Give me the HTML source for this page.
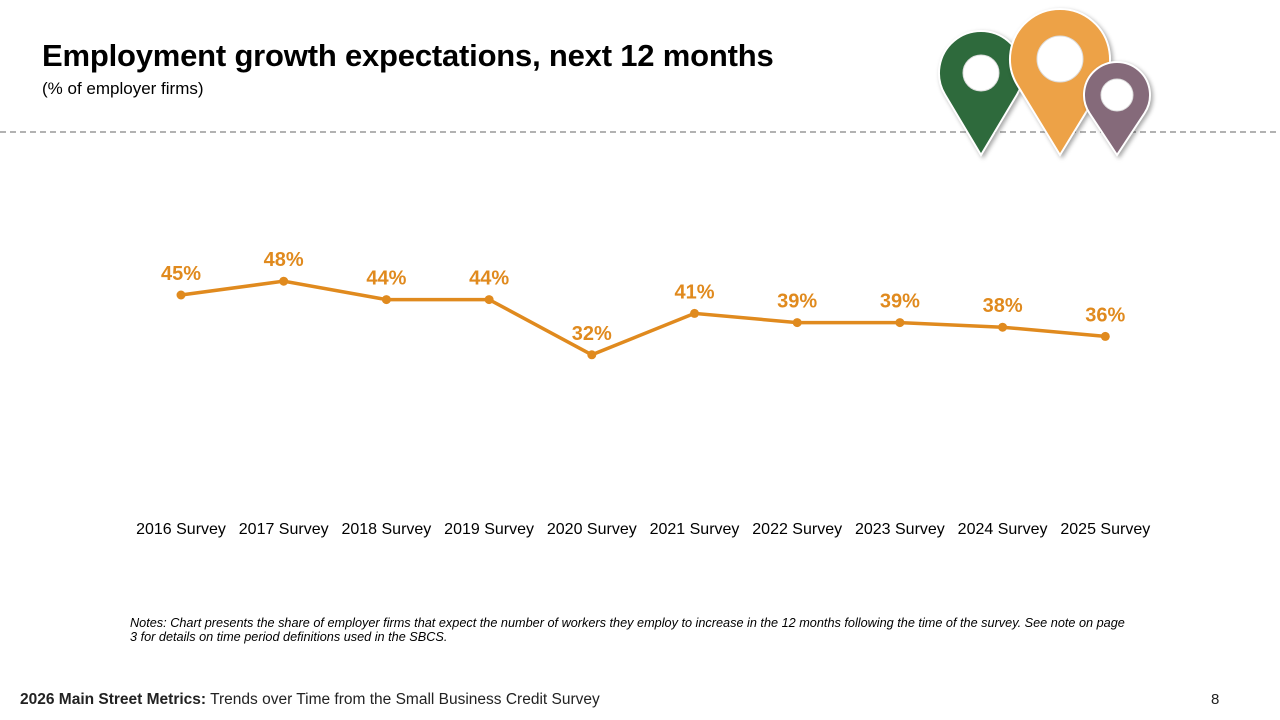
<!DOCTYPE html>
<html><head><meta charset="utf-8"><style>
body{margin:0;width:1280px;height:720px;background:#fff;font-family:"Liberation Sans",sans-serif;position:relative;overflow:hidden}
.t{position:absolute;left:42px;top:38px;font-size:31px;font-weight:bold;color:#000;letter-spacing:-0.2px}
.s{position:absolute;left:42px;top:79px;font-size:17px;color:#000}
.n{position:absolute;left:130px;top:616px;width:1000px;font-size:12.7px;font-style:italic;line-height:14px;color:#000}
.f{position:absolute;left:20px;top:691px;font-size:15.5px;color:#222}
.p{position:absolute;left:1211px;top:691px;font-size:15px;color:#222}
</style></head><body>
<div class="t">Employment growth expectations, next 12 months</div>
<div class="s">(% of employer firms)</div>
<svg id="c" width="1280" height="720" style="position:absolute;left:0;top:0">
<line x1="0" y1="132" x2="1280" y2="132" stroke="#999" stroke-dasharray="6,4" stroke-width="1.5"/>
<g id="pins"></g>
<g id="plot"></g>
</svg>
<div class="n">Notes: Chart presents the share of employer firms that expect the number of workers they employ to increase in the 12 months following the time of the survey. See note on page 3 for details on time period definitions used in the SBCS.</div>
<div class="f"><b>2026 Main Street Metrics:</b> Trends over Time from the Small Business Credit Survey</div>
<div class="p">8</div>
<script>
const categories=["2016 Survey","2017 Survey","2018 Survey","2019 Survey","2020 Survey","2021 Survey","2022 Survey","2023 Survey","2024 Survey","2025 Survey"];
const values=[45,48,44,44,32,41,39,39,38,36];
const NS="http://www.w3.org/2000/svg";
const x=i=>181+i*102.7;
const y=v=>502-v*4.6;
const plot=document.getElementById('plot');
function mk(t,a,p){const e=document.createElementNS(NS,t);for(const k in a)e.setAttribute(k,a[k]);p.appendChild(e);return e;}
const line=mk('polyline',{points:values.map((v,i)=>x(i)+','+y(v)).join(' '),fill:'none',stroke:'#E08A1E','stroke-width':3.5},plot);


values.forEach((v,i)=>{
 const c=mk('circle',{cx:x(i),cy:y(v),r:4.5,fill:'#E08A1E'},plot);
 
 
 const t=mk('text',{x:x(i),y:y(v)-15,'text-anchor':'middle','font-size':20,'font-weight':'bold',fill:'#E08A1E','font-family':'Liberation Sans, sans-serif'},plot);
 t.textContent=v+'%';
 
 
 const l=mk('text',{x:x(i),y:534,'text-anchor':'middle','font-size':16,fill:'#000','font-family':'Liberation Sans, sans-serif'},plot);
 l.textContent=categories[i];
 
 
});
const pins=document.getElementById('pins');
function pin(cx,cy,r,ty,hr,col){
 const d=ty-cy,s=Math.sqrt(1-(r/d)**2),px=r*s,py=r*r/d;
 mk('path',{d:`M${cx},${ty} L${cx-px},${cy+py} A${r},${r} 0 1 1 ${cx+px},${cy+py} Z`,fill:col,stroke:'#fff','stroke-width':2,style:'filter:drop-shadow(2px 2px 2px rgba(0,0,0,0.35))'},pins);
 mk('circle',{cx:cx,cy:cy,r:hr,fill:'#fff',stroke:'#ddd','stroke-width':1},pins);
}
pin(981,73,42,155,18,'#2E6A3C');
pin(1060,59,50,155,23,'#EDA247');
pin(1117,95,33,155,16,'#856A7A');
</script>
</body></html>
